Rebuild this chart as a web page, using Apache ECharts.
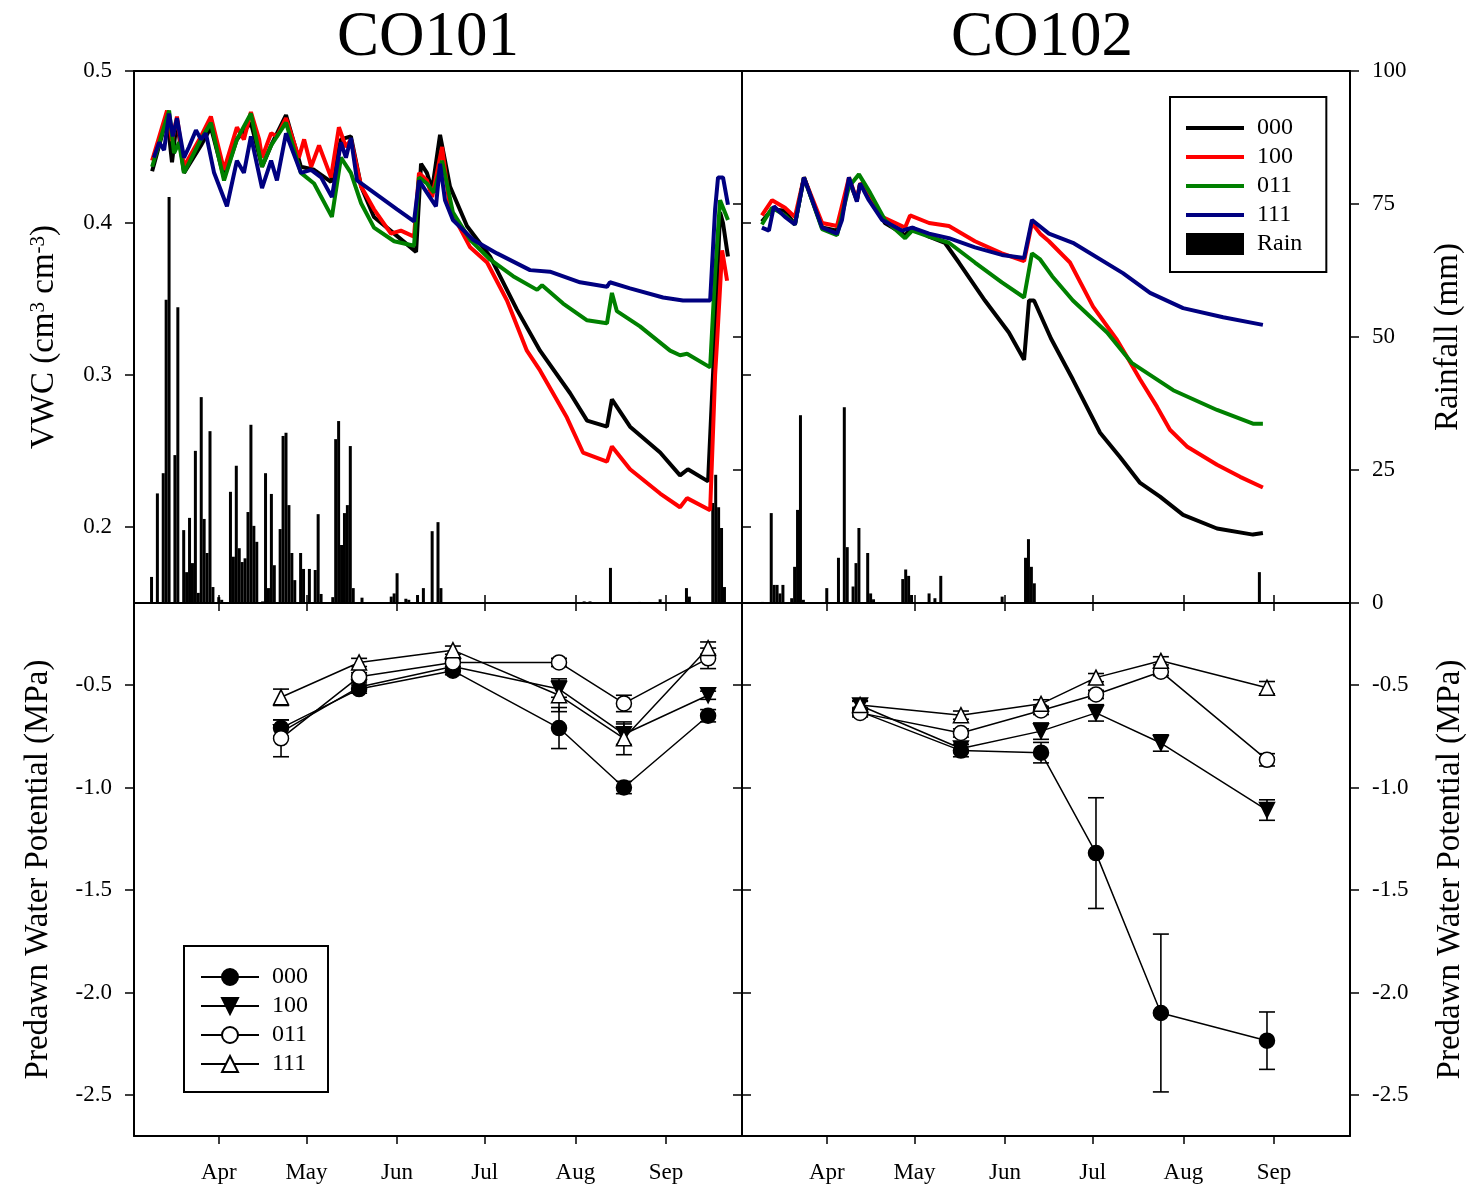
<!DOCTYPE html>
<html>
<head>
<meta charset="utf-8">
<script src="https://cdn.jsdelivr.net/npm/echarts@6/dist/echarts.min.js"></script>
<style>
  html, body { margin: 0; padding: 0; background: #fff; }
  #chart { width: 1476px; height: 1189px; }
</style>
</head>
<body>
<div id="chart"></div>
<script>
// ---- axis settings (x is day of year) ----
const dayMin = 62, dayMax = 270;
const monthTicks = [91, 121, 152, 182, 213, 244];
const monthLabels = ['Apr', 'May', 'Jun', 'Jul', 'Aug', 'Sep'];
const vwcTicks = [0.2, 0.3, 0.4, 0.5];
const rainTicks = [0, 25, 50, 75, 100];
const psiTicks = [-2.5, -2.0, -1.5, -1.0, -0.5];
const siteNames = ['CO101', 'CO102'];
const treatments = ['000', '100', '011', '111'];
const lineColors = ['#000000', '#ff0000', '#008000', '#000080'];

// ---- soil volumetric water content, [day, cm3 cm-3] ----
const co101_000 = [[68.2,0.434],[73.3,0.470],[75.0,0.440],[76.7,0.468],[79.1,0.433],[84.9,0.451],[88.3,0.463],[92.8,0.430],[97.2,0.455],[102.0,0.466],[105.8,0.437],[108.9,0.451],[114.0,0.471],[119.1,0.437],[123.6,0.435],[129.4,0.427],[132.8,0.455],[136.2,0.457],[139.7,0.424],[144.1,0.404],[151.0,0.393],[158.5,0.381],[160.2,0.439],[162.2,0.433],[164.0,0.422],[166.7,0.458],[170.1,0.424],[175.9,0.398],[183.8,0.378],[193.0,0.343],[200.9,0.316],[211.2,0.288],[217.0,0.270],[223.8,0.266],[225.5,0.284],[231.7,0.266],[242.0,0.249],[248.8,0.234],[251.5,0.238],[258.4,0.230],[260.8,0.330],[262.5,0.407],[263.5,0.400],[265.2,0.378]];
const co101_100 = [[68.2,0.441],[73.3,0.474],[75.0,0.454],[76.7,0.470],[79.1,0.437],[84.9,0.457],[88.3,0.470],[92.8,0.435],[97.2,0.463],[99.6,0.455],[102.0,0.473],[104.8,0.455],[105.8,0.443],[108.9,0.459],[110.9,0.457],[114.0,0.469],[118.4,0.443],[120.2,0.455],[122.6,0.437],[125.3,0.451],[129.4,0.430],[132.1,0.463],[134.5,0.450],[136.2,0.455],[139.7,0.424],[144.1,0.409],[149.9,0.393],[153.3,0.395],[157.8,0.391],[159.5,0.433],[162.2,0.428],[164.0,0.417],[167.4,0.450],[170.1,0.409],[177.0,0.384],[182.8,0.374],[189.6,0.349],[196.4,0.316],[200.9,0.303],[210.1,0.272],[215.6,0.249],[223.8,0.243],[225.5,0.253],[231.7,0.238],[242.0,0.222],[248.8,0.213],[251.2,0.219],[259.1,0.211],[260.8,0.300],[261.5,0.323],[263.2,0.382],[264.9,0.362]];
const co101_011 = [[68.2,0.437],[74.0,0.474],[75.7,0.446],[77.4,0.453],[79.1,0.433],[84.9,0.455],[88.3,0.466],[92.8,0.428],[97.2,0.455],[102.0,0.472],[105.8,0.437],[108.9,0.451],[114.0,0.466],[119.1,0.433],[123.6,0.426],[129.7,0.404],[132.8,0.443],[136.2,0.433],[139.7,0.413],[144.1,0.397],[151.0,0.388],[157.8,0.385],[159.5,0.430],[162.2,0.426],[164.6,0.420],[167.4,0.441],[171.1,0.407],[177.0,0.389],[183.8,0.376],[191.7,0.365],[199.9,0.356],[201.6,0.359],[208.8,0.347],[217.0,0.336],[223.8,0.334],[225.5,0.354],[227.2,0.342],[235.1,0.332],[245.4,0.316],[248.8,0.313],[251.2,0.314],[259.1,0.305],[260.8,0.367],[262.5,0.415],[265.2,0.402]];
const co101_111 = [[68.8,0.443],[70.6,0.453],[72.3,0.448],[74.0,0.472],[75.3,0.457],[76.7,0.469],[79.1,0.443],[80.8,0.450],[83.2,0.461],[84.9,0.455],[86.6,0.459],[89.4,0.433],[93.8,0.411],[97.2,0.441],[99.6,0.433],[102.0,0.457],[105.8,0.423],[108.9,0.441],[110.9,0.428],[114.0,0.459],[119.1,0.433],[122.6,0.435],[126.0,0.430],[129.7,0.417],[132.8,0.453],[134.5,0.443],[136.2,0.456],[138.3,0.428],[144.1,0.420],[152.0,0.409],[157.8,0.401],[159.5,0.428],[162.2,0.420],[165.3,0.411],[166.7,0.439],[168.4,0.415],[171.1,0.402],[178.0,0.389],[186.2,0.380],[197.5,0.369],[204.3,0.368],[214.6,0.361],[223.8,0.358],[224.8,0.361],[231.7,0.357],[243.0,0.351],[249.8,0.349],[259.1,0.349],[260.8,0.409],[261.8,0.430],[263.5,0.430],[265.2,0.412]];

const co102_000 = [[68.8,0.401],[72.3,0.409],[76.7,0.408],[80.1,0.399],[83.2,0.430],[89.4,0.397],[94.5,0.395],[98.6,0.428],[101.3,0.415],[102.4,0.426],[105.4,0.418],[110.9,0.400],[117.8,0.392],[120.2,0.397],[126.0,0.391],[131.4,0.387],[136.2,0.374],[145.1,0.349],[153.3,0.328],[158.5,0.310],[160.2,0.349],[161.9,0.349],[167.7,0.324],[175.2,0.297],[184.5,0.262],[191.3,0.246],[198.2,0.229],[205.0,0.220],[212.9,0.208],[224.5,0.199],[236.8,0.195],[240.2,0.196]];
const co102_100 = [[68.8,0.405],[72.3,0.415],[76.7,0.410],[80.1,0.404],[83.2,0.430],[89.4,0.400],[94.5,0.398],[98.6,0.430],[101.3,0.415],[102.4,0.426],[105.4,0.420],[109.9,0.404],[117.8,0.397],[119.5,0.405],[126.0,0.400],[132.8,0.398],[141.7,0.388],[150.9,0.380],[158.5,0.375],[161.2,0.400],[164.0,0.393],[167.0,0.388],[174.2,0.374],[182.1,0.345],[190.3,0.323],[193.7,0.312],[198.2,0.297],[204.0,0.279],[208.4,0.264],[214.2,0.253],[224.5,0.241],[232.4,0.233],[240.2,0.226]];
const co102_011 = [[68.8,0.399],[72.3,0.410],[76.7,0.405],[80.1,0.399],[83.2,0.430],[89.4,0.396],[94.5,0.392],[98.6,0.424],[102.0,0.432],[105.8,0.420],[110.9,0.402],[117.8,0.390],[120.2,0.395],[126.0,0.391],[132.8,0.387],[141.7,0.374],[150.9,0.361],[158.5,0.351],[161.2,0.380],[164.0,0.376],[168.1,0.365],[175.2,0.349],[186.9,0.328],[195.3,0.308],[209.5,0.290],[224.5,0.277],[236.8,0.268],[240.2,0.268]];
const co102_111 = [[68.8,0.397],[71.2,0.395],[72.9,0.411],[76.7,0.404],[80.1,0.399],[83.2,0.430],[89.4,0.397],[94.5,0.393],[96.2,0.402],[98.6,0.430],[101.3,0.414],[102.4,0.426],[105.4,0.415],[109.9,0.402],[116.7,0.395],[120.2,0.397],[126.0,0.393],[132.8,0.390],[141.7,0.384],[150.9,0.379],[158.5,0.377],[161.2,0.402],[167.0,0.393],[175.2,0.387],[192.3,0.367],[201.6,0.354],[212.9,0.344],[226.6,0.338],[240.2,0.333]];

// ---- daily rainfall, [day, mm] ----
const co101_rain = [[68,4.9],[70,20.6],[72,24.4],[73,57],[74,76.3],[76,27.8],[77,55.6],[79,13.7],[80,5.8],[81,16.0],[82,7.5],[83,28.6],[84,1.9],[85,38.7],[86,15.8],[87,9.4],[88,32.3],[89,3.0],[91,1.1],[92,0.6],[95,20.9],[96,8.7],[97,25.8],[98,10.3],[99,7.7],[100,8.4],[101,17.1],[102,33.5],[103,14.5],[104,11.5],[106,0.3],[107,24.4],[108,2.8],[109,20.5],[110,7.1],[112,13.9],[113,31.4],[114,32.0],[115,18.4],[116,9.4],[117,4.3],[119,9.4],[120,6.4],[122,6.4],[124,6.2],[125,16.7],[126,1.7],[130,1.1],[131,30.8],[132,34.2],[133,10.9],[134,16.9],[135,18.4],[136,29.5],[137,2.8],[140,1.0],[150,1.2],[151,1.8],[152,5.6],[155,0.8],[156,0.6],[159,1.5],[161,2.8],[164,13.5],[166,15.2],[167,2.8],[216,0.3],[218,0.3],[225,6.6],[235,0.2],[242,0.7],[251,2.8],[252,1.2],[260,18.8],[261,24.1],[262,18.0],[263,14.1],[264,3.0]];
const co102_rain = [[69,0.2],[72,16.9],[73,3.4],[74,3.4],[75,1.8],[76,3.4],[79,0.9],[80,6.8],[81,17.5],[82,35.3],[83,0.6],[91,2.8],[95,8.5],[97,36.8],[98,10.5],[100,3.1],[101,7.5],[102,14.1],[105,9.4],[106,1.8],[107,0.7],[117,4.5],[118,6.3],[119,5.1],[120,1.5],[126,1.8],[128,0.9],[130,5.1],[151,1.2],[159,8.5],[160,12.0],[161,6.8],[162,3.7],[239,5.8]];

// ---- predawn leaf water potential (MPa): sampling days, means and error ----
const co101_days = [112.3, 139.0, 171.1, 207.4, 229.6, 258.4];
const co101_psi_000 = [-0.71, -0.52, -0.43, -0.71, -1.00, -0.65];
const co101_err_000 = [0.04, 0.02, 0.02, 0.10, 0.03, 0.03];
const co101_psi_100 = [-0.73, -0.51, -0.41, -0.52, -0.74, -0.55];
const co101_err_100 = [0.03, 0.02, 0.02, 0.04, 0.05, 0.02];
const co101_psi_011 = [-0.76, -0.46, -0.39, -0.39, -0.59, -0.37];
const co101_err_011 = [0.09, 0.02, 0.02, 0.02, 0.04, 0.05];
const co101_psi_111 = [-0.56, -0.39, -0.33, -0.55, -0.76, -0.32];
const co101_err_111 = [0.04, 0.02, 0.02, 0.08, 0.08, 0.03];

const co102_days = [102.4, 136.9, 164.3, 183.1, 205.3, 241.6];
const co102_psi_000 = [-0.63, -0.82, -0.83, -1.32, -2.10, -2.235];
const co102_err_000 = [0.02, 0.03, 0.05, 0.27, 0.385, 0.14];
const co102_psi_100 = [-0.60, -0.81, -0.725, -0.636, -0.783, -1.11];
const co102_err_100 = [0.02, 0.02, 0.04, 0.04, 0.04, 0.05];
const co102_psi_011 = [-0.636, -0.734, -0.624, -0.546, -0.435, -0.865];
const co102_err_011 = [0.02, 0.02, 0.02, 0.02, 0.02, 0.03];
const co102_psi_111 = [-0.597, -0.647, -0.592, -0.464, -0.382, -0.513];
const co102_err_111 = [0.02, 0.02, 0.02, 0.02, 0.02, 0.03];

// ---- assembling ----
const SERIF = 'Liberation Serif';
const vwcSets = [[co101_000, co101_100, co101_011, co101_111], [co102_000, co102_100, co102_011, co102_111]];
const rainSets = [co101_rain, co102_rain];
const psiDays = [co101_days, co102_days];
const psiSets = [
  [[co101_psi_000, co101_err_000], [co101_psi_100, co101_err_100], [co101_psi_011, co101_err_011], [co101_psi_111, co101_err_111]],
  [[co102_psi_000, co102_err_000], [co102_psi_100, co102_err_100], [co102_psi_011, co102_err_011], [co102_psi_111, co102_err_111]]
];
const psiMarkers = [
  { symbol: 'circle', rotate: 0, fill: '#000' },
  { symbol: 'triangle', rotate: 180, fill: '#000' },
  { symbol: 'circle', rotate: 0, fill: '#fff' },
  { symbol: 'triangle', rotate: 0, fill: '#fff' }
];

const axisLine = { show: true, onZero: false, lineStyle: { color: '#000', width: 2 } };
const tickLine = { color: '#000', width: 1.5 };
const labelFont = { fontFamily: SERIF, fontSize: 23, color: '#000' };
const nameFont = { fontFamily: SERIF, fontSize: 33, color: '#000' };

function dayAxis(gridIndex, position, tickMode, showLabels) {
  return {
    type: 'value', gridIndex, position, min: dayMin, max: dayMax,
    axisLine,
    axisTick: { show: tickMode !== 'none', inside: tickMode === 'in', length: 8, customValues: monthTicks, lineStyle: tickLine },
    axisLabel: Object.assign({ show: showLabels, margin: 25, customValues: monthTicks,
      formatter: v => monthLabels[monthTicks.indexOf(v)] || '' }, labelFont),
    splitLine: { show: false }
  };
}

function valAxis(gridIndex, position, min, max, ticks, tickMode, showLabels, fmt, extra) {
  return Object.assign({
    type: 'value', gridIndex, position, min, max,
    axisLine,
    axisTick: { show: tickMode !== 'none', inside: tickMode === 'in', length: 9, customValues: ticks, lineStyle: tickLine },
    axisLabel: Object.assign({ show: showLabels, margin: 22, customValues: ticks, formatter: fmt }, labelFont),
    splitLine: { show: false }
  }, extra || {});
}

const fmt1 = v => v.toFixed(1);
const fmt0 = v => String(Math.round(v));

const vwcName = {
  name: '{a|VWC (cm}{s|3}{a| cm}{s|-3}{a|)}', nameLocation: 'middle', nameGap: 73, nameRotate: 90,
  nameTextStyle: { rich: { a: Object.assign({}, nameFont), s: { fontFamily: SERIF, fontSize: 21, color: '#000', verticalAlign: 'top' } } }
};
const rainName = { name: 'Rainfall (mm)', nameLocation: 'middle', nameGap: 82, nameRotate: 90, nameTextStyle: nameFont };
const psiNameL = { name: 'Predawn Water Potential (MPa)', nameLocation: 'middle', nameGap: 79, nameRotate: 90, nameTextStyle: nameFont };
const psiNameR = { name: 'Predawn Water Potential (MPa)', nameLocation: 'middle', nameGap: 84, nameRotate: 90, nameTextStyle: nameFont };

const xAxes = [
  dayAxis(0, 'bottom', 'in', false), dayAxis(0, 'top', 'none', false),
  dayAxis(1, 'bottom', 'in', false), dayAxis(1, 'top', 'none', false),
  dayAxis(2, 'bottom', 'out', true), dayAxis(2, 'top', 'in', false),
  dayAxis(3, 'bottom', 'out', true), dayAxis(3, 'top', 'in', false)
];
const yAxes = [
  valAxis(0, 'left', 0.15, 0.5, vwcTicks, 'out', true, fmt1, vwcName),
  valAxis(0, 'right', 0, 100, rainTicks, 'in', false, fmt0),
  valAxis(1, 'left', 0.15, 0.5, vwcTicks, 'in', false, fmt1),
  valAxis(1, 'right', 0, 100, rainTicks, 'out', true, fmt0, rainName),
  valAxis(2, 'left', -2.7, -0.1, psiTicks, 'out', true, fmt1, psiNameL),
  valAxis(2, 'right', -2.7, -0.1, psiTicks, 'in', false, fmt1),
  valAxis(3, 'left', -2.7, -0.1, psiTicks, 'in', false, fmt1),
  valAxis(3, 'right', -2.7, -0.1, psiTicks, 'out', true, fmt1, psiNameR)
];

const series = [];
// rainfall bars on the right axis of each upper panel
[0, 1].forEach(p => {
  series.push({
    type: 'bar', name: 'Rain', xAxisIndex: p * 2, yAxisIndex: p * 2 + 1,
    data: rainSets[p], barWidth: 3, itemStyle: { color: '#000' }, z: 1
  });
});
// soil moisture lines
[0, 1].forEach(p => {
  treatments.forEach((t, i) => {
    series.push({
      type: 'line', name: t, xAxisIndex: p * 2, yAxisIndex: p * 2,
      data: vwcSets[p][i], symbol: 'none', showSymbol: false,
      lineStyle: { color: lineColors[i], width: 4 }, itemStyle: { color: lineColors[i] }, z: 3
    });
  });
});
// predawn water potential: error bars, then connected markers
function errorBars(p, i) {
  const days = psiDays[p], vals = psiSets[p][i][0], errs = psiSets[p][i][1];
  return {
    type: 'custom', name: 'err-' + treatments[i], xAxisIndex: 4 + p * 2, yAxisIndex: 4 + p * 2,
    data: days.map((d, k) => [d, vals[k] - errs[k], vals[k] + errs[k]]),
    encode: { x: 0, y: [1, 2] }, z: 2,
    renderItem: (params, api) => {
      const x = api.value(0);
      const lo = api.coord([x, api.value(1)]);
      const hi = api.coord([x, api.value(2)]);
      const hw = 8;
      const st = { stroke: '#000', lineWidth: 1.6 };
      return {
        type: 'group', children: [
          { type: 'line', shape: { x1: lo[0], y1: lo[1], x2: hi[0], y2: hi[1] }, style: st },
          { type: 'line', shape: { x1: lo[0] - hw, y1: lo[1], x2: lo[0] + hw, y2: lo[1] }, style: st },
          { type: 'line', shape: { x1: hi[0] - hw, y1: hi[1], x2: hi[0] + hw, y2: hi[1] }, style: st }
        ]
      };
    }
  };
}
[0, 1].forEach(p => {
  treatments.forEach((t, i) => series.push(errorBars(p, i)));
  treatments.forEach((t, i) => {
    const m = psiMarkers[i];
    series.push({
      type: 'line', name: 'PD-' + t, xAxisIndex: 4 + p * 2, yAxisIndex: 4 + p * 2,
      data: psiDays[p].map((d, k) => [d, psiSets[p][i][0][k]]),
      symbol: m.symbol, symbolRotate: m.rotate, symbolSize: 15, showSymbol: true,
      lineStyle: { color: '#000', width: 1.5 },
      itemStyle: { color: m.fill, borderColor: '#000', borderWidth: 1.5 }, z: 4
    });
  });
});

const option = {
  animation: false,
  backgroundColor: '#fff',
  textStyle: { fontFamily: SERIF },
  title: siteNames.map((s, i) => ({
    text: s, left: i === 0 ? 337 : 951, top: 7, padding: 0,
    textStyle: { fontFamily: SERIF, fontSize: 63, fontWeight: 'normal', color: '#000' }
  })),
  grid: [
    { left: 134, top: 71, width: 608, height: 532 },
    { left: 742, top: 71, width: 608, height: 532 },
    { left: 134, top: 603, width: 608, height: 533 },
    { left: 742, top: 603, width: 608, height: 533 }
  ],
  legend: [
    {
      left: 1170, top: 97, orient: 'vertical', selectedMode: false,
      borderColor: '#000', borderWidth: 2, padding: [19, 24, 16, 14],
      itemWidth: 58, itemHeight: 22, itemGap: 5,
      lineStyle: { width: 4 },
      textStyle: { fontFamily: SERIF, fontSize: 24, color: '#000', padding: [0, 0, 0, 8] },
      data: treatments.map(t => ({ name: t, itemStyle: { opacity: 0 } })).concat([{ name: 'Rain', icon: 'rect' }])
    },
    {
      left: 184, top: 946, orient: 'vertical', selectedMode: false,
      borderColor: '#000', borderWidth: 2, padding: [19, 20, 16, 16],
      itemWidth: 58, itemHeight: 20, itemGap: 5,
      textStyle: { fontFamily: SERIF, fontSize: 24, color: '#000', padding: [0, 0, 0, 8] },
      formatter: n => n.replace('PD-', ''),
      data: treatments.map(t => 'PD-' + t)
    }
  ],
  xAxis: xAxes,
  yAxis: yAxes,
  series
};

const chart = echarts.init(document.getElementById('chart'), null, { renderer: 'canvas' });
chart.setOption(option);
</script>
</body>
</html>
